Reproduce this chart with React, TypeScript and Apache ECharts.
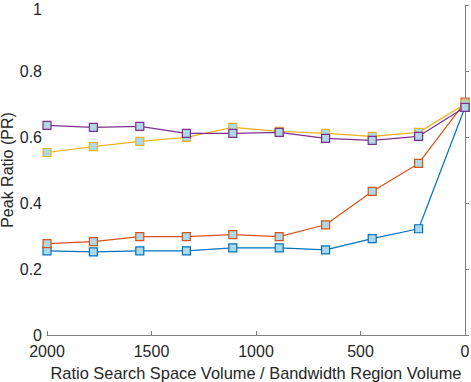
import React, { useEffect, useRef } from "react";
import * as echarts from "echarts";

const xValues = [2000, 1778, 1556, 1333, 1111, 889, 667, 444, 222, 0];
const blueValues = [0.255, 0.252, 0.255, 0.255, 0.264, 0.264, 0.258, 0.292, 0.322, 0.69];
const orangeValues = [0.277, 0.283, 0.298, 0.298, 0.304, 0.298, 0.334, 0.435, 0.52, 0.706];
const yellowValues = [0.553, 0.571, 0.587, 0.599, 0.629, 0.617, 0.611, 0.602, 0.614, 0.7];
const purpleValues = [0.635, 0.629, 0.632, 0.611, 0.611, 0.614, 0.596, 0.59, 0.602, 0.69];
const seriesNames = ["Blue", "Orange", "Yellow", "Purple"];
const seriesColors = ["#0072BD", "#D95319", "#EDB120", "#7E2F8E"];
const xTicks = [0, 500, 1000, 1500, 2000];
const yTicks = [0, 0.2, 0.4, 0.6, 0.8, 1];

export default function App() {
  const ref = useRef<HTMLDivElement>(null);
  useEffect(() => {
    if (!ref.current) return;
    const chart = echarts.init(ref.current, undefined, { renderer: "svg" });
    const all = [blueValues, orangeValues, yellowValues, purpleValues];
    const font = "Liberation Sans, Arial, Helvetica, sans-serif";
    chart.setOption({
      animation: false,
      backgroundColor: "#ffffff",
      grid: { left: 47, right: 6, top: 5, bottom: 47, containLabel: false, outerBoundsMode: "none" },
      xAxis: {
        type: "value",
        inverse: true,
        min: 0,
        max: 2000,
        interval: 500,
        name: "Ratio Search Space Volume / Bandwidth Region Volume",
        nameLocation: "middle",
        nameGap: 30,
        nameMoveOverlap: false,
        nameTextStyle: { color: "#262626", fontSize: 16.4, fontFamily: font },
        axisLine: { show: true, lineStyle: { color: "#808080", width: 1 } },
        axisTick: { show: true, inside: true, length: 4, lineStyle: { color: "#808080" } },
        axisLabel: {
          color: "#262626",
          fontSize: 16,
          fontFamily: font,
          margin: 8,
          formatter: (v: number) => (xTicks.includes(v) ? String(v) : ""),
        },
        splitLine: { show: false },
      },
      yAxis: {
        type: "value",
        min: 0,
        max: 1,
        interval: 0.2,
        name: "Peak Ratio (PR)",
        nameLocation: "middle",
        nameGap: 32,
        nameMoveOverlap: false,
        nameTextStyle: { color: "#262626", fontSize: 16, fontFamily: font },
        axisLine: { show: true, lineStyle: { color: "#808080", width: 1 } },
        axisTick: { show: true, inside: true, length: 4, lineStyle: { color: "#808080" } },
        axisLabel: {
          color: "#262626",
          fontSize: 16,
          fontFamily: font,
          margin: 5,
          formatter: (v: number) => {
            const t = yTicks.find((y) => Math.abs(y - v) < 1e-9);
            if (t === undefined) return "";
            return t === 1 ? "{top|1}" : String(t);
          },
          rich: {
            top: { fontSize: 16, fontFamily: font, color: "#262626", padding: [8, 0, 0, 0] },
          },
        },
        splitLine: { show: false },
      },
      series: all.map((vals, i) => ({
        name: seriesNames[i],
        type: "line",
        data: xValues.map((x, j) => [x, vals[j]]),
        symbol: "rect",
        symbolSize: 8,
        showAllSymbol: true,
        lineStyle: { color: seriesColors[i], width: 1.2 },
        itemStyle: { color: "#ADD8E6", borderColor: seriesColors[i], borderWidth: 1.2 },
        z: 2 + i,
      })),
    });
    return () => chart.dispose();
  }, []);
  return <div ref={ref} style={{ width: 471, height: 382, position: "absolute", left: 0, top: 0 }} />;
}
